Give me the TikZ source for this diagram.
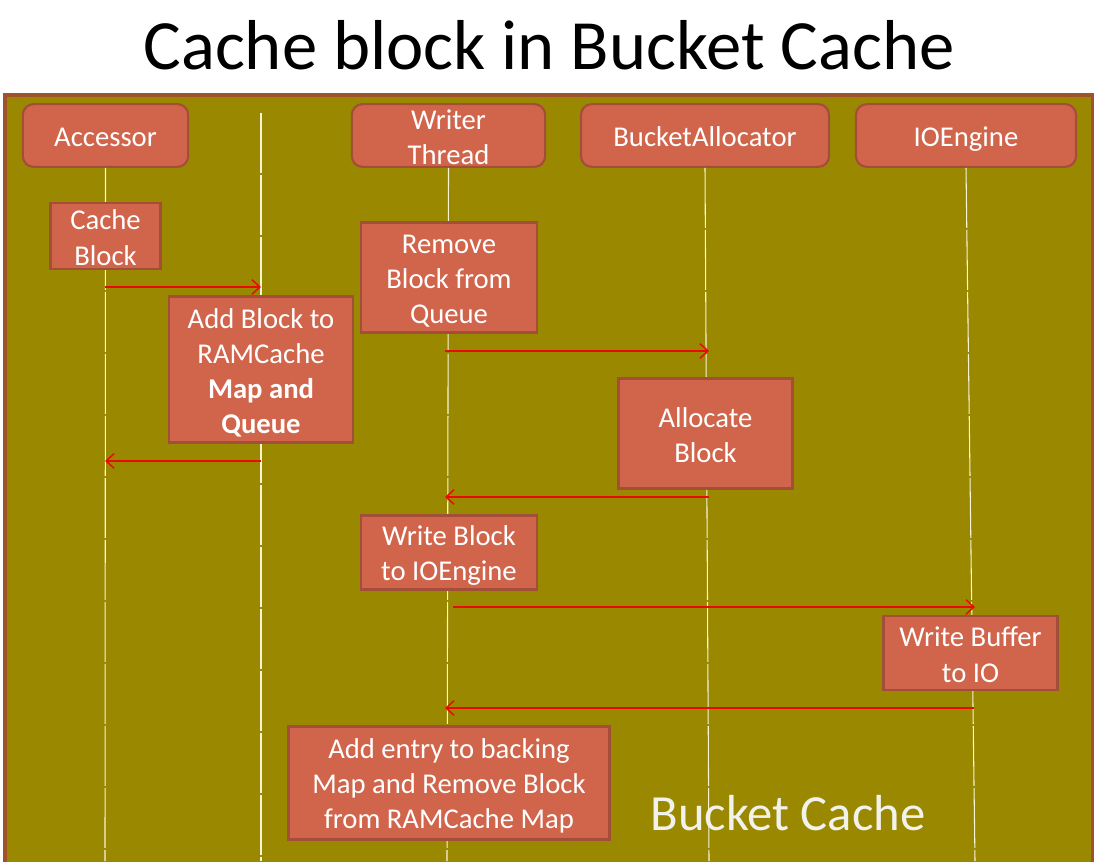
\documentclass[tikz,border=0pt]{standalone}
\usepackage{fontspec}
\setmainfont{Carlito}
\usetikzlibrary{arrows.meta}
\definecolor{bgolive}{RGB}{153,136,0}
\definecolor{boxfill}{RGB}{209,101,76}
\definecolor{boxedge}{RGB}{162,78,56}
\definecolor{frameedge}{RGB}{160,82,45}
\definecolor{lifecol}{RGB}{248,245,215}
\definecolor{msgred}{RGB}{235,10,0}
\newcommand{\tS}{\rule{0pt}{0.92em}}
\newcommand{\bS}{\rule[-0.12em]{0pt}{0pt}}
\tikzset{
  boxtext/.style={text=white, align=center, inner sep=0pt,
    font=\fontsize{21.5}{26.3}\selectfont},
  hdr/.style={boxtext, draw=boxedge, line width=1.6pt, fill=boxfill, rounded corners=8pt},
  actbox/.style={boxtext, draw=boxedge, line width=2.2pt, fill=boxfill},
  life/.style={draw=lifecol, line width=0.8pt, dash pattern=on 45pt off 1.5pt},
  msg/.style={draw=msgred, line width=1.1pt, -{Straight Barb[length=6pt,width=11pt,line width=1.1pt]}}
}
\begin{document}
\begin{tikzpicture}[x=0.75pt,y=-0.75pt]
\useasboundingbox (0,0) rectangle (1095,861);
\clip (0,0) rectangle (1095,861);
\fill[white] (0,0) rectangle (1095,861);
% frame
\draw[draw=frameedge, line width=2.6pt, fill=bgolive] (5,95) rectangle (1092.5,880);
% title
\node[font=\fontsize{53}{60}\selectfont, text=black] (title) at (549,45) {Cache block in Bucket Cache};
% headers
\node[hdr, minimum width=124pt, minimum height=47pt] (acc) at (105.5,135.5) {\tS Accessor\bS};
\node[hdr, minimum width=145pt, minimum height=47pt] (wt) at (448.5,135.5) {\rule{0pt}{0.85em}Writer\\Thread\rule[-0.08em]{0pt}{0pt}};
\node[hdr, minimum width=186pt, minimum height=47pt] (ba) at (705,135.5) {\tS BucketAllocator\bS};
\node[hdr, minimum width=165pt, minimum height=47pt] (io) at (966,135.5) {\tS IOEngine\bS};
% lifeline coordinates
\coordinate (accB) at (105,861);
\coordinate (qT) at (261,113);
\coordinate (qB) at (261,861);
\coordinate (wtB) at (447,861);
\coordinate (baB) at (709,861);
\coordinate (ioB) at (975,861);
\draw[life] (acc.south) -- (accB);
\draw[life] (qT) -- (qB);
\draw[life] (wt.south) -- (wtB);
\draw[life] (ba.south) -- (baB);
\draw[life] (io.south) -- (ioB);
% activation boxes
\node[actbox, minimum width=83pt, minimum height=49.5pt] (cb) at (105.5,236) {\tS Cache\\Block\bS};
\node[actbox, minimum width=138pt, minimum height=110pt] (add) at (261,369.5) {\tS Add Block to\\RAMCache\\\textbf{Map and}\\\textbf{Queue}\bS};
\node[actbox, minimum width=132pt, minimum height=83pt] (rem) at (449,277.5) {\tS Remove\\Block from\\Queue\bS};
\node[actbox, minimum width=131pt, minimum height=83pt] (alloc) at (705.5,433.5) {\tS Allocate\\Block\bS};
\node[actbox, minimum width=132pt, minimum height=56pt] (wb) at (449,552.5) {\tS Write Block\\to IOEngine\bS};
\node[actbox, minimum width=131pt, minimum height=55.5pt] (wbuf) at (970.5,653) {\tS Write Buffer\\to IO\bS};
\node[actbox, minimum width=241pt, minimum height=85pt] (entry) at (449,783) {\tS Add entry to backing\\Map and Remove Block\\from RAMCache Map\bS};
% message anchor coordinates
\coordinate (m1s) at (105,287); \coordinate (m1e) at (261,287);
\coordinate (m2s) at (261,461); \coordinate (m2e) at (105,461);
\coordinate (m3s) at (445,351); \coordinate (m3e) at (709,351);
\coordinate (m4s) at (709,497); \coordinate (m4e) at (445,497);
\coordinate (m5s) at (453,607); \coordinate (m5e) at (975,607);
\coordinate (m6s) at (974,708); \coordinate (m6e) at (445,708);
\draw[msg] (m1s) -- (m1e);
\draw[msg] (m2s) -- (m2e);
\draw[msg] (m3s) -- (m3e);
\draw[msg] (m4s) -- (m4e);
\draw[msg] (m5s) -- (m5e);
\draw[msg] (m6s) -- (m6e);
% caption
\node[font=\fontsize{38}{44}\selectfont, text={rgb,255:red,242;green,242;blue,236}] (cap) at (788,813) {Bucket Cache};
\end{tikzpicture}
\end{document}
